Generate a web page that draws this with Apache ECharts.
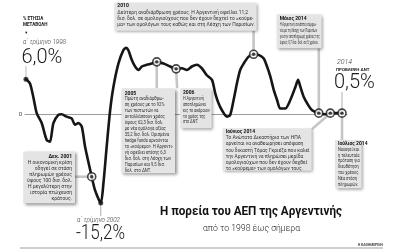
<!DOCTYPE html>
<html>
<head>
<meta charset="utf-8">
<script src="https://cdn.jsdelivr.net/npm/echarts@6/dist/echarts.min.js"></script>
<style>
  html, body { margin: 0; background: #fff; }
  #chart { width: 400px; height: 249px; }
</style>
</head>
<body>
<div id="chart"></div>
<script>
// quarterly-ish readings of the curve, x in years
const YEARS = [1998.00, 1998.21, 1998.38, 1998.56, 1998.82, 1999.08, 1999.25, 1999.43, 1999.69, 1999.86,
  2000.12, 2000.38, 2000.56, 2000.73, 2000.91, 2001.08, 2001.43, 2001.60, 2001.90, 2002.04,
  2002.21, 2002.39, 2002.56, 2002.82, 2003.08, 2003.22, 2003.34, 2003.52, 2003.69, 2003.87,
  2004.04, 2004.30, 2004.56, 2004.82, 2005.17, 2005.52, 2005.83, 2006.13, 2006.39, 2006.65,
  2006.91, 2007.17, 2007.43, 2007.70, 2007.87, 2008.04, 2008.22, 2008.48, 2008.65, 2008.83,
  2009.00, 2009.17, 2009.35, 2009.61, 2009.87, 2010.13, 2010.39, 2010.57, 2010.74, 2010.92,
  2011.09, 2011.26, 2011.52, 2011.79, 2012.05, 2012.19, 2012.31, 2012.48, 2012.66, 2012.92,
  2013.27, 2013.61, 2013.87, 2014.48];
const GDP = [6.0, 5.3, 3.0, 0.2, -1.5, -4.4, -4.7, -1.5, -0.1, 0.0,
  -0.4, -0.7, -1.8, -1.5, -2.1, -5.5, -10.7, -13.0, -15.2, -11.8,
  -5.5, 0.7, 4.7, 8.7, 11.0, 11.4, 11.0, 9.3, 8.2, 7.6,
  8.2, 8.5, 8.7, 9.0, 8.7, 8.2, 7.8, 7.9, 7.6, 8.2,
  8.5, 7.9, 6.7, 5.9, 3.6, 1.9, 0.7, -0.4, -0.1, 2.5,
  5.3, 7.6, 8.7, 9.9, 10.3, 10.2, 9.6, 8.2, 6.5, 4.2,
  2.5, 1.0, 1.0, 2.5, 4.7, 5.9, 4.7, 3.0, 1.9, 0.7,
  0.2, 0.0, 0.2, 0.2];
// annotated points: Δεκ.2001, 2005, 2006, 2010, Μάιος, Ιούνιος, Ιούλιος 2014
const TARGET_YEARS = [2001.43, 2004.82, 2005.83, 2009.87, 2013.27, 2013.87, 2014.48];
const DOT_YEARS = [1998.00, 2001.90];

const NOTES = [
  { head: "2010", body: ["Δεύτερη αναδιάρθρωση χρέους. Η Αργεντινή οφείλει 11,2",
    "δισ. δολ. σε ομολογιούχους που δεν έχουν δεχτεί το «κούρε-",
    "μα» των ομολόγων τους καθώς και στη Λέσχη των Παρισίων."] },
  { head: "Μάιος 2014", body: ["Η Αργεντινή συνάπτει συμφω-", "νία με τη Λέσχη των Παρισίων",
    "για την αποπληρωμή χρέους της", "ύψους 9,7 δισ. δολ. σε 5 χρόνια."] },
  { head: "Δεκ. 2001", body: ["Η οικονομική κρίση", "οδηγεί σε στάση", "πληρωμών χρέους",
    "ύψους 100 δισ. δολ.", "Η μεγαλύτερη στην", "ιστορία πτώχευση", "κράτους."] },
  { head: "2005", body: ["Πρώτη αναδιάρθρω-", "ση χρέους με το 92%", "των πιστωτών να",
    "ανταλλάσσουν χρέος", "ύψους 62,3 δισ. δολ.", "με νέα ομόλογα αξίας", "35,2 δισ. δολ. Ορισμένα",
    "hedge funds αρνούνται", "το «κούρεμα». Η Αργεντι-", "νή οφείλει επίσης 6,3",
    "δισ. δολ. στη Λέσχη των", "Παρισίων και 9,5 δισ.", "δολ. στο ΔΝΤ."] },
  { head: "2006", body: ["Η Αργεντινή", "αποπληρώνει", "εις το ακέραιον", "το χρέος της", "στο ΔΝΤ."] },
  { head: "Ιούνιος 2014", body: ["Το Ανώτατο Δικαστήριο των ΗΠΑ", "αρνείται να αναθεωρήσει απόφαση",
    "του δικαστή Τόμας Γκριέζα που καλεί", "την Αργεντινή να πληρώσει μερίδα",
    "ομολογιούχων που δεν έχουν δεχθεί", "το «κούρεμα» των ομολόγων τους."] },
  { head: "Ιούλιος 2014", body: ["Ναυαγεί και", "η τελευταία", "πρόταση για", "διευθέτηση",
    "του χρέους.", "Νέα στάση", "πληρωμών."] },
];

const NARROW = "'Liberation Sans Narrow', 'Roboto', sans-serif";
const LIGHT = "Roboto, 'Open Sans', sans-serif";
const LINE = "#161616";
const LINK = "#c6c6c6";

const valueAt = (y) => [y, GDP[YEARS.indexOf(y)]];
const series = YEARS.map((y, i) => [y, GDP[i]]);

const chart = echarts.init(document.getElementById("chart"), null, { renderer: "canvas" });
chart.setOption({
  animation: false,
  grid: { left: 25, right: 53, top: 32.7, bottom: 41.4 },
  xAxis: {
    type: "value", min: 1997.95, max: 2014.74,
    axisLine: { onZero: true, lineStyle: { color: "#9c9c9c", width: 1 } },
    axisTick: { show: false }, axisLabel: { show: false }, splitLine: { show: false },
  },
  yAxis: {
    type: "value", min: -16, max: 14, interval: 2,
    axisLine: { show: false }, axisTick: { show: false }, splitLine: { show: false },
    axisLabel: { margin: 3, color: "#444", fontSize: 6, fontFamily: LIGHT, formatter: (v) => (v === 0 ? "0" : "") },
  },
  series: [
    {
      type: "line", data: series, symbol: "none", smooth: 0.25, z: 3,
      lineStyle: { color: LINE, width: 2.6, join: "round", cap: "round" },
    },
    {
      type: "scatter", data: DOT_YEARS.map(valueAt), symbolSize: 5, z: 4,
      itemStyle: { color: LINE },
    },
    {
      type: "scatter", data: TARGET_YEARS.map(valueAt), symbolSize: 8, z: 4,
      itemStyle: { color: "#fff", borderColor: LINE, borderWidth: 1.6 },
    },
    {
      type: "scatter", data: TARGET_YEARS.map(valueAt), symbolSize: 3.4, z: 5,
      itemStyle: { color: LINE },
    },
  ],
});

const px = (pt) => chart.convertToPixel({ gridIndex: 0 }, pt);
const T = TARGET_YEARS.map((y) => px(valueAt(y)));
const D = DOT_YEARS.map((y) => px(valueAt(y)));

// squeeze a text line to the width it has in the print layout
const measure = document.createElement("canvas").getContext("2d");
function fit(text, font, width) {
  measure.font = font;
  return Math.min(1, width / measure.measureText(text).width);
}

function link(x1, y1, x2, y2, width, color) {
  return { type: "line", shape: { x1, y1, x2, y2 }, style: { stroke: color || LINK, lineWidth: width || 2.6 }, z: 1 };
}

function note(n, x, y, w, h, pad, lh, align) {
  const tx = align === "right" ? x + w - 3 : x + 3;
  const bodyFont = "5px " + NARROW;
  const widest = Math.min(...n.body.map((l) => fit(l, bodyFont, w - 5)));
  return [
    { type: "rect", shape: { x, y, width: w, height: h }, z: 2,
      style: { fill: "#e4e4e4", shadowBlur: 3, shadowOffsetX: 1.5, shadowOffsetY: 1.5, shadowColor: "rgba(0,0,0,0.45)" } },
    { type: "text", x: tx, y: y + pad, z: 3,
      style: { text: n.head, font: "bold 5px " + NARROW, fill: "#111", align, textAlign: align, verticalAlign: "top", lineHeight: lh } },
    { type: "text", x: tx, y: y + pad + lh, z: 3, scaleX: widest,
      style: { text: n.body.join("\n"), font: bodyFont, fill: "#333", align, textAlign: align, verticalAlign: "top", lineHeight: lh } },
  ];
}

function label(text, x, y, font, fill, align, width) {
  return { type: "text", x, y, z: 3, scaleX: width ? fit(text, font, width) : 1,
    style: { text, font, fill: fill || "#1a1a1a", align: align || "left", textAlign: align || "left", verticalAlign: "middle" } };
}

const graphics = [
  // connectors
  link(75, T[0][1], T[0][0], T[0][1]),
  link(T[1][0], T[1][1], T[1][0], 88.3),
  link(T[2][0], T[2][1], T[2][0] + 1, 88.3),
  link(T[3][0], T[3][1], T[3][0], 30.7),
  link(T[4][0], T[4][1], T[4][0], 48.3),
  link(T[5][0], T[5][1], 311, 130),
  link(T[6][0], T[6][1], T[6][0], 140),
  link(T[6][0], T[6][1], T[6][0], 92, 0.8, "#999"),
  link(D[0][0], D[0][1], D[0][0], 66, 0.8, "#aaa"),
  link(D[1][0], D[1][1], D[1][0], 216, 0.8, "#999"),
  // boxes
  ...note(NOTES[0], 114.3, 2.7, 142.4, 28, 0.2, 6.3, "left"),
  ...note(NOTES[1], 276.7, 14.3, 45, 34, 2, 5.8, "left"),
  ...note(NOTES[2], 23.3, 151.7, 51.7, 51.6, 2, 6, "right"),
  ...note(NOTES[3], 121.7, 88.3, 53.3, 85, 2, 5.95, "left"),
  ...note(NOTES[4], 180, 88.3, 31.7, 40, 2, 5.8, "left"),
  ...note(NOTES[5], 222.7, 128.3, 89, 42.4, 0.3, 6.2, "left"),
  ...note(NOTES[6], 335, 140, 26.7, 48.3, 0.5, 5.9, "left"),
  // left / bottom / right callouts
  label("% ΕΤΗΣΙΑ", 23, 19, "bold 4.6px " + NARROW),
  label("ΜΕΤΑΒΟΛΗ", 23, 25, "bold 4.6px " + NARROW),
  label("▼", 24.3, 33, "4px " + NARROW),
  label("α΄ τρίμηνο 1998", 23, 42, "italic 300 7px " + LIGHT, "#333", "left", 43),
  label("6,0%", 21.5, 57.5, "300 20px " + LIGHT),
  label("α΄ τρίμηνο 2002", 77, 220, "italic 300 7px " + LIGHT, "#333", "left", 43),
  label("-15,2%", 76, 234, "300 20px " + LIGHT, null, "left", 49),
  label("2014", 337, 62, "italic 300 7px " + LIGHT, "#333"),
  label("ΠΡΟΒΛΕΨΗ ΔΝΤ", 336, 70, "bold 4.4px " + NARROW, null, "left", 35),
  label("0,5%", 334, 83, "300 20px " + LIGHT),
  // title
  label("Η πορεία του ΑΕΠ της Αργεντινής", 251, 212, "bold 13px " + NARROW, "#111", "center", 182),
  label("από το 1998 έως σήμερα", 251.5, 229, "300 9.5px " + LIGHT, "#222", "center", 97),
  label("Η ΚΑΘΗΜΕΡΙΝΗ", 383, 245.3, "bold 3.4px " + NARROW, "#444", "right", 26),
  { type: "rect", shape: { x: 20, y: 247, width: 363, height: 2.5 }, style: { fill: "#cfcfcf" }, z: 1 },
];

chart.setOption({ graphic: graphics });
</script>
</body>
</html>
